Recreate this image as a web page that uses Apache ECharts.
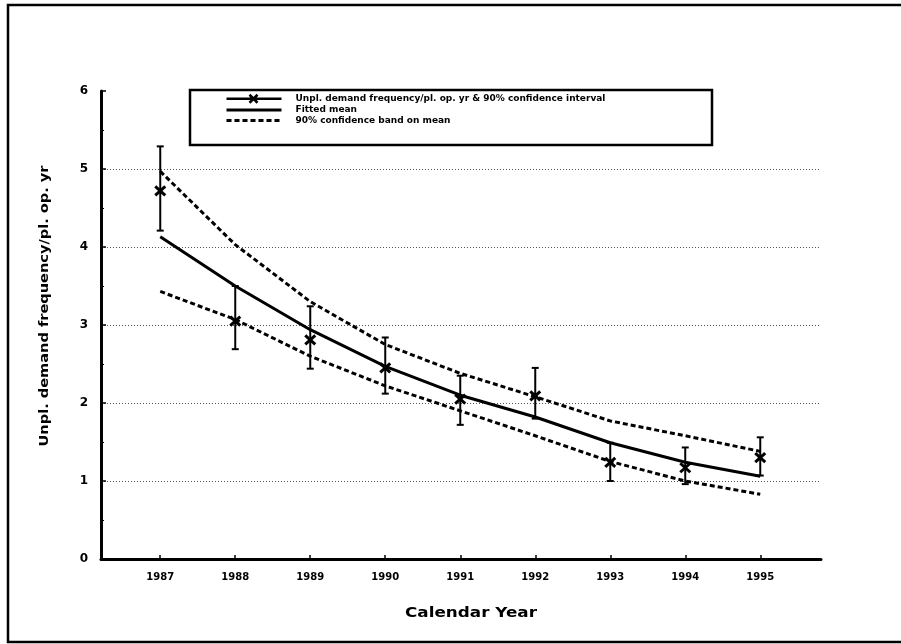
<!DOCTYPE html>
<html>
<head>
<meta charset="utf-8">
<script src="https://cdn.jsdelivr.net/npm/echarts@6/dist/echarts.min.js"></script>
<style>
html,body{margin:0;padding:0;background:#fff;}
#chart{width:901px;height:644px;}
</style>
</head>
<body>
<div id="chart"></div>
<script>
// ---- data ----
var years = [1987, 1988, 1989, 1990, 1991, 1992, 1993, 1994, 1995];
var observed = [4.72, 3.05, 2.81, 2.45, 2.05, 2.09, 1.24, 1.17, 1.30];
var ciLow    = [4.21, 2.69, 2.44, 2.12, 1.72, 1.80, 1.00, 0.96, 1.07];
var ciHigh   = [5.29, 3.50, 3.24, 2.84, 2.35, 2.45, 1.49, 1.43, 1.56];
var fittedMean = [4.13, 3.50, 2.94, 2.47, 2.10, 1.82, 1.49, 1.24, 1.06];
var bandUpper  = [4.97, 4.03, 3.30, 2.75, 2.38, 2.08, 1.77, 1.58, 1.38];
var bandLower  = [3.43, 3.07, 2.60, 2.22, 1.90, 1.58, 1.25, 1.00, 0.83];

var obsName = 'Unpl. demand frequency/pl. op. yr & 90% confidence interval';
var meanName = 'Fitted mean';
var bandName = '90% confidence band on mean';
var xTitle = 'Calendar Year';
var yTitle = 'Unpl. demand frequency/pl. op. yr';

var FONT = 'DejaVu Sans';

function pairs(arr) { return years.map(function (y, i) { return [y, arr[i]]; }); }

var obsData = years.map(function (y, i) { return [y, observed[i], ciLow[i], ciHigh[i]]; });

var chart = echarts.init(document.getElementById('chart'), null, {renderer: 'canvas'});

var hidden = 'rgba(0,0,0,0)';

var option = {
  animation: false,
  backgroundColor: '#fff',
  grid: {left: 101, right: 80, top: 91, bottom: 85, containLabel: false},
  xAxis: {
    type: 'value',
    min: 1986.21,
    max: 1995.81,
    axisLine: {show: true, onZero: false, lineStyle: {color: '#000', width: 3}},
    axisTick: {show: true, inside: true, length: 4, customValues: years, lineStyle: {color: '#000', width: 1.5}},
    axisLabel: {
      customValues: years,
      formatter: function (v) { return String(v); },
      fontFamily: FONT, fontWeight: 'bold', fontSize: 10, color: '#000', margin: 13
    },
    splitLine: {show: false}
  },
  yAxis: {
    type: 'value',
    min: 0, max: 6, interval: 1,
    axisLine: {show: true, lineStyle: {color: '#000', width: 3}},
    axisTick: {show: true, inside: true, length: 5, lineStyle: {color: '#000', width: 1.5}},
    minorTick: {show: true, splitNumber: 2, length: 3, lineStyle: {color: '#000', width: 1}},
    axisLabel: {
      formatter: function (v) { return String(v); },
      fontFamily: FONT, fontWeight: 'bold', fontSize: 12, color: '#000', margin: 13
    },
    splitLine: {show: true, showMinLine: false, showMaxLine: false, lineStyle: {color: '#555', width: 1, type: [1, 2]}}
  },
  legend: {
    show: true,
    orient: 'vertical',
    left: 225, top: 93.5,
    itemWidth: 55, itemHeight: 9, itemGap: 1.5,
    padding: 0,
    lineStyle: {width: 3},
    textStyle: {fontFamily: FONT, fontWeight: 'bold', fontSize: 9, color: '#000', padding: [0, 0, 0, 9]},
    data: [
      {name: obsName, icon: 'path://M0,5L55,5M23,1L31,9M31,1L23,9',
       itemStyle: {color: hidden, borderColor: '#000', borderWidth: 2.5}},
      {name: meanName},
      {name: bandName}
    ]
  },
  graphic: [
    {type: 'rect', shape: {x: 8, y: 5, width: 1000, height: 637}, style: {fill: null, stroke: '#000', lineWidth: 2.5}, silent: true, z: -10},
    {type: 'rect', shape: {x: 190, y: 90, width: 522, height: 55}, style: {fill: '#fff', stroke: '#000', lineWidth: 2.5}, silent: true, z: -1},
    {type: 'text', x: 471, y: 613, scaleX: 1.2,
     style: {text: xTitle, font: 'bold 14px "DejaVu Sans"', fill: '#000', textAlign: 'center', textVerticalAlign: 'middle'}},
    {type: 'text', x: 45, y: 306, rotation: Math.PI / 2, scaleX: 1.12,
     style: {text: yTitle, font: 'bold 13px "DejaVu Sans"', fill: '#000', textAlign: 'center', textVerticalAlign: 'middle'}}
  ],
  series: [
    {
      name: meanName,
      type: 'line',
      data: pairs(fittedMean),
      symbol: 'none',
      itemStyle: {color: hidden, borderWidth: 0},
      lineStyle: {color: '#000', width: 3},
      z: 3
    },
    {
      name: bandName,
      type: 'line',
      data: pairs(bandUpper),
      symbol: 'none',
      itemStyle: {color: hidden, borderWidth: 0},
      lineStyle: {color: '#000', width: 3, type: [5, 3]},
      z: 3
    },
    {
      name: bandName,
      type: 'line',
      data: pairs(bandLower),
      symbol: 'none',
      itemStyle: {color: hidden, borderWidth: 0},
      lineStyle: {color: '#000', width: 3, type: [5, 3]},
      z: 3
    },
    {
      name: obsName,
      type: 'custom',
      data: obsData,
      encode: {x: 0, y: [1, 2, 3]},
      itemStyle: {color: '#000'},
      z: 4,
      renderItem: function (params, api) {
        var x = api.value(0);
        var p = api.coord([x, api.value(1)]);
        var pl = api.coord([x, api.value(2)]);
        var ph = api.coord([x, api.value(3)]);
        var cap = 3.5, sx = 5, sy = 4.5;
        var st = {stroke: '#000', lineWidth: 2};
        var sx2 = {stroke: '#000', lineWidth: 3};
        return {
          type: 'group',
          children: [
            {type: 'line', shape: {x1: p[0], y1: ph[1], x2: p[0], y2: pl[1]}, style: st},
            {type: 'line', shape: {x1: p[0] - cap, y1: ph[1], x2: p[0] + cap, y2: ph[1]}, style: st},
            {type: 'line', shape: {x1: p[0] - cap, y1: pl[1], x2: p[0] + cap, y2: pl[1]}, style: st},
            {type: 'line', shape: {x1: p[0] - sx, y1: p[1] - sy, x2: p[0] + sx, y2: p[1] + sy}, style: sx2},
            {type: 'line', shape: {x1: p[0] + sx, y1: p[1] - sy, x2: p[0] - sx, y2: p[1] + sy}, style: sx2}
          ]
        };
      }
    }
  ]
};
chart.setOption(option);
</script>
</body>
</html>
